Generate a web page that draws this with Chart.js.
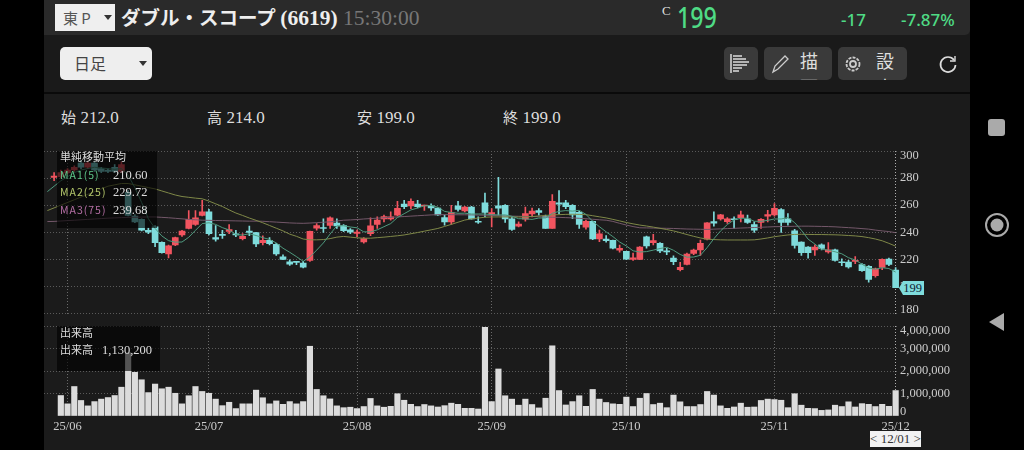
<!DOCTYPE html>
<html lang="ja">
<head>
<meta charset="utf-8">
<title>ダブル・スコープ (6619)</title>
<script src="https://cdn.jsdelivr.net/npm/chart.js@4"></script>
<style>
html, body { margin: 0; padding: 0; background: #000; }
body { width: 1024px; height: 450px; overflow: hidden; position: relative; font-family: "Liberation Serif", "Noto Sans CJK JP", serif; color: #ddd; }
.abs { position: absolute; white-space: nowrap; }
#panel { left: 44px; top: 0; width: 926px; height: 450px; background: #1b1b1b; }
#head { left: 44px; top: 0; width: 926px; height: 35px; background: #2a2a2a; border-radius: 0 0 5px 0; }
#tool { left: 44px; top: 35px; width: 926px; height: 57px; background: #1a1a1a; border-bottom: 2px solid #0a0a0a; }
#mkt { left: 55px; top: 4px; width: 60px; height: 27px; background: #efefef; color: #555; font: 15px/27px "Noto Sans CJK JP"; text-indent: 8px; }
#mkt i, #span i { position: absolute; width: 0; height: 0; border: 4px solid transparent; border-top: 5px solid #333; }
#mkt i { right: 3px; top: 11px; }
#name { left: 121px; top: 4px; font: bold 19.5px/26px "Noto Sans CJK JP"; color: #eee; }
#name b { font: bold 21.5px/26px "Liberation Serif"; margin-left: 0; }
#name span { font: 21.5px/26px "Liberation Serif"; color: #777; margin-left: 1px; }
.green { color: #4fdb85; font-family: "Noto Sans"; font-weight: 500; }
#span { left: 60px; top: 47px; width: 92px; height: 33px; background: #eee; border-radius: 5px; color: #444; font: 16px/33px "Noto Sans CJK JP"; text-indent: 14px; }
#span i { right: 5px; top: 14px; }
.btn { background: #3a3a3a; border-radius: 5px; top: 47px; height: 33px; overflow: hidden; }
.btn svg { position: absolute; left: 6px; top: 6px; }
.btn div { position: absolute; top: 0; left: 36px; width: 18px; white-space: normal; font: 18px/26px "Noto Sans CJK JP"; color: #ddd; }
.ohlc { top: 107px; font: 15px/20px "Noto Sans CJK JP"; }
.ohlc span { font: 17px/20px "Liberation Serif"; margin-left: 1px; }
canvas { position: absolute; }
.lgd { background: rgba(0,0,0,.62); font: 11px/17px "Noto Sans CJK JP"; color: #ddd; }
.lgd div { position: absolute; left: 3px; white-space: nowrap; }
.lgd .ma { letter-spacing: 1px; font-size: 10.5px; }
.lgd span { font-family: "Liberation Serif"; font-size: 12.5px; }
#tag { left: 899px; top: 281px; width: 25px; height: 14px; background: #7fdcdc; color: #123; font: 12.5px/14px "Liberation Serif"; text-align: right; padding-right: 2px; box-sizing: border-box; clip-path: polygon(0 50%, 4px 0, 100% 0, 100% 100%, 4px 100%); }
#date { left: 870px; top: 431px; width: 51px; height: 16px; background: #f2f2f2; color: #333; font: 13px/16px "Liberation Serif"; text-align: center; }
#dateTip { left: 893px; top: 427px; width: 0; height: 0; border: 3px solid transparent; border-bottom: 4px solid #f2f2f2; }
</style>
</head>
<body>
<div class="abs" id="panel"></div>
<div class="abs" id="head"></div>
<div class="abs" id="tool"></div>

<div class="abs" id="mkt">東 P<i></i></div>
<div class="abs" id="name">ダブル・スコープ <b>(6619)</b> <span>15:30:00</span></div>
<div class="abs" style="left:662px;top:3px;font-size:13px;color:#ddd">C</div>
<div class="abs green" style="left:677px;top:-2px;font-size:28px;line-height:38px;transform:scaleX(.83);transform-origin:left">199</div>
<div class="abs green" style="left:841px;top:9px;font-size:17px;line-height:22px;">-17</div>
<div class="abs green" style="left:901px;top:9px;font-size:17px;line-height:22px;">-7.87%</div>

<div class="abs" id="span">日足<i></i></div>
<div class="abs btn" style="left:724px;width:34px">
  <svg width="22" height="22" stroke="#ddd" stroke-width="1.5"><path d="M1 1V20M3 3H12M3 6H16M3 9H19M3 12H17M3 15H12M3 18H9"/></svg>
</div>
<div class="abs btn" style="left:764px;width:68px">
  <svg width="22" height="22" fill="none" stroke="#ccc" stroke-width="1.3"><path d="M3 19L5 13L15 3L18 6L8 16Z"/></svg>
  <div>描画</div>
</div>
<div class="abs btn" style="left:838px;width:69px">
  <svg width="22" height="22" fill="none" stroke="#ccc" stroke-width="1.8"><circle cx="9" cy="11" r="3"/><circle cx="9" cy="11" r="6.5" stroke-dasharray="3 1.2"/></svg>
  <div style="left:38px">設定</div>
</div>
<svg class="abs" style="left:937px;top:53px" width="22" height="22" fill="none" stroke="#ddd" stroke-width="1.7"><path d="M17 7A7.5 7.5 0 1 0 18.5 12"/><path d="M18 3V8H13" stroke-width="1.4"/></svg>

<div class="abs ohlc" style="left:61px">始 <span>212.0</span></div>
<div class="abs ohlc" style="left:207px">高 <span>214.0</span></div>
<div class="abs ohlc" style="left:357px">安 <span>199.0</span></div>
<div class="abs ohlc" style="left:503px">終 <span>199.0</span></div>

<canvas id="priceChart" width="916" height="175" style="left:44px;top:145px"></canvas>
<canvas id="volumeChart" width="916" height="130" style="left:44px;top:320px"></canvas>

<div class="abs lgd" style="left:57px;top:151px;width:100px;height:77px">
  <div style="top:-3px">単純移動平均</div>
  <div class="ma" style="top:14.5px;color:#5fc88a">MA1(5)</div><div style="top:14.5px;left:56px"><span>210.60</span></div>
  <div class="ma" style="top:32px;color:#b3c66b">MA2(25)</div><div style="top:32px;left:56px"><span>229.72</span></div>
  <div class="ma" style="top:49.5px;color:#b56fa5">MA3(75)</div><div style="top:49.5px;left:56px"><span>239.68</span></div>
</div>
<div class="abs lgd" style="left:57px;top:326px;width:103px;height:45px">
  <div style="top:-2px">出来高</div>
  <div style="top:15px">出来高</div><div style="top:15px;left:45px"><span>1,130,200</span></div>
</div>
<div class="abs" id="tag">199</div>
<div class="abs" id="dateTip"></div>
<div class="abs" id="date">&lt; 12/01 &gt;</div>

<!-- android nav bar -->
<div class="abs" style="left:988px;top:119px;width:17px;height:17px;background:#aaa;border-radius:3px"></div>
<svg class="abs" style="left:984px;top:212px" width="26" height="26"><circle cx="13" cy="13" r="11" fill="none" stroke="#aaa" stroke-width="2"/><circle cx="13" cy="13" r="6.5" fill="#aaa"/></svg>
<svg class="abs" style="left:988px;top:312px" width="18" height="20"><path d="M1 10L16 1V19Z" fill="#aaa"/></svg>

<script>
// first two slots are left of the first volume bar, the picture clips them
var monthLabels = ['', '', '', '25/06', '', '', '', '', '', '', '', '', '', '', '', '', '', '', '', '', '', '', '', '', '25/07', '', '', '', '', '', '', '', '', '', '', '', '', '', '', '', '', '', '', '', '', '', '25/08', '', '', '', '', '', '', '', '', '', '', '', '', '', '', '', '', '', '', '', '25/09', '', '', '', '', '', '', '', '', '', '', '', '', '', '', '', '', '', '', '', '25/10', '', '', '', '', '', '', '', '', '', '', '', '', '', '', '', '', '', '', '', '', '', '25/11', '', '', '', '', '', '', '', '', '', '', '', '', '', '', '', '', '', '25/12'];

var opens = [null, 280.5, 281, 284, 286, 291, 288, 291, 287, 286, 288, 285,
  269.5, 252, 249.6, 241.5, 244, 232.5, 224, 230.6, 238, 242.8, 245.7, 252.5, 255, 236, 238.4, 240.6, 238.9, 235.2, 240.8, 239.8, 232.3, 234, 231, 221.8, 218.2, 218.2, 217.2, 219.2, 243, 243.3, 245, 246.7,
  245, 241.8, 239.2, 232.8, 239, 245.7, 249.9, 249.9, 252.6, 260.8, 259.4, 260.8, 259.4, 259.6, 257.9, 250.8, 247.7, 259.6, 255.7, 258.6, 247.9, 261.8, 253.3, 259.6, 259.9, 249.9, 244.5, 249.6, 253.5, 256, 251.8, 242.8, 261.8, 261.8, 259.9, 254.7, 243.8, 248, 235, 235, 234, 226.8, 226,
  220, 220, 236.7, 232.3, 231.9, 226, 220.9, 212.4, 216.3, 224.3, 227, 234.8, 247.9, 249.9, 247.9, 249.9, 250.8, 249.9, 245.7, 247.2, 251.8, 252.8, 256.7, 249.9, 241.1, 232.8, 229, 227, 230.7, 225.5, 227, 218, 218, 218.5, 216.1, 214.8, 208, 214.1, 220.2, 212];
var highs = [null, 284, 286, 287, 289, 293, 292, 292, 288, 287, 290, 292,
  271, 253, 250, 243, 245, 233, 230.5, 236.5, 241.5, 256, 256, 263.5, 257, 245, 241.5, 245.7, 241.5, 239, 244.5, 240, 237.4, 236, 231.8, 223.3, 219.7, 218.5, 218.5, 240.9, 246.4, 250, 251.3, 250,
  245.7, 242.8, 241.6, 236, 250.6, 251.3, 252.6, 255, 262.8, 263.5, 264.7, 263.5, 260, 261, 258, 252.6, 259.9, 262.8, 259.1, 259.1, 251.3, 268.9, 257.4, 280.5, 260.4, 251.3, 247.7, 258.6, 257.9, 257.4, 252.6, 267.9, 270.8, 263.5, 260.4, 255.5, 249, 248.2, 241.6, 237.5, 234.3, 230.6, 226,
  224.6, 229.4, 237.2, 238.4, 232.4, 228.2, 222.6, 217.8, 224.6, 227.5, 234.3, 247.2, 255, 253.3, 250.8, 251.3, 255.7, 252.6, 247.7, 250.1, 256.2, 261.1, 257.4, 253.8, 242.1, 233, 229.4, 230.7, 231.4, 232.4, 227.5, 220.4, 219.2, 222.1, 216.8, 215.3, 213.6, 220.4, 220.9, 214];
var lows = [null, 278, 280, 283, 285, 287, 287, 285, 284, 284, 284, 284,
  252, 247, 241, 239, 229.4, 224.5, 221, 230, 237, 242.5, 245, 252, 238, 233.5, 235.5, 239, 236.7, 234.3, 237.4, 229.4, 230.6, 230.6, 222.8, 219.7, 215.5, 216, 213.6, 218.4, 241.6, 239.8, 242.8, 242.8,
  240.4, 239, 236.7, 231.9, 237.5, 242.8, 247.7, 248.9, 252, 257.4, 257.4, 257.9, 256.2, 256.2, 252.5, 245.3, 245.7, 255.5, 255, 249.6, 246.5, 251.3, 244, 252.6, 247.2, 241.4, 244, 248.2, 251.3, 252.6, 242.8, 242.8, 253.8, 257.4, 250, 242.8, 242.3, 234.5, 233, 232.6, 227.7, 225.3, 219.7,
  219.2, 219.7, 228.2, 230.7, 225, 223.4, 216.1, 211.4, 215.8, 223.4, 222.9, 234.3, 244.5, 248.9, 246.5, 242.8, 247.7, 246.5, 239.9, 242.8, 247.7, 251.8, 239.9, 245.3, 228.2, 222.9, 220.9, 222.9, 227, 224.6, 218.7, 215.3, 213.4, 216.8, 211, 203.2, 206.8, 212.4, 215.3, 199];
var closes = [null, 281.5, 284, 286, 288, 288, 291, 286, 285, 285, 285, 290,
  252.5, 247.6, 241.6, 240, 232.3, 225, 230, 236, 240.8, 249.6, 250.6, 255, 239, 234.8, 237.7, 242, 238, 237, 239.8, 231.3, 234, 231.6, 224, 220, 216.5, 217.7, 214.3, 240.6, 245, 242.8, 250.6, 244.7,
  241.1, 240.1, 240.1, 235.3, 244.8, 248.9, 251.6, 251.3, 257.7, 258.9, 262.8, 258.9, 259.9, 257.9, 252.8, 247.7, 254.5, 256.9, 258.6, 249.9, 247.4, 254.7, 254.5, 257.7, 249.9, 242.1, 246, 253.8, 255.7, 254.7, 242.8, 262.8, 260.8, 258.9, 252.8, 245.7, 248, 235, 238.9, 233.8, 228.2, 228.2, 220.2,
  221.2, 229, 229.9, 233.8, 226.3, 225.5, 218.2, 214.1, 223.8, 226.8, 231.9, 247, 246.7, 252.8, 249.9, 249.2, 252.8, 247.2, 241.6, 249.6, 253, 257.7, 247.2, 247.2, 230.2, 225, 225, 229, 228, 227, 219.2, 217.5, 214.4, 219.2, 211.7, 205.1, 212.9, 220, 216.3, 199];

var ma1 = [270, 274, 278, 281, 284, 286, 287, 288, 287.5, 287, 286.5, 287,
  282, 273, 262, 250, 242.8, 237.3, 233.8, 232.7, 232.8, 236.3, 241.4, 246.4, 247, 245.8, 243.4, 241.7, 238.3, 237.9, 238.9, 237.6, 236, 234.7, 232.1, 228.2, 225.2, 222, 218.5, 221.8, 226.8, 232.1, 238.7, 244.7,
  244.8, 243.9, 243.3, 240.3, 240.3, 241.8, 244.1, 246.4, 250.9, 253.7, 256.5, 257.9, 259.6, 259.7, 258.5, 255.4, 254.6, 254, 254.1, 253.5, 253.5, 253.5, 253, 252.8, 252.8, 251.8, 250, 249.9, 249.5, 250.5, 250.6, 254, 255.4, 256, 255.6, 256.2, 253.2, 248.1, 244.1, 240.3, 236.8, 232.8, 229.9,
  226.3, 225.4, 225.7, 226.8, 228, 228.9, 226.7, 223.6, 221.6, 221.7, 223, 228.7, 235.2, 241, 245.7, 249.1, 250.3, 250.4, 248.1, 248.1, 248.8, 249.8, 249.8, 250.9, 247.1, 241.5, 234.9, 231.3, 227.4, 226.8, 225.6, 224.1, 221.2, 219.5, 216.4, 213.6, 212.7, 213.8, 213.2, 210.6];
var ma2 = [256, 258, 260, 262, 264, 266, 268, 270, 272, 274, 275, 276,
  276, 275, 274, 273, 272, 270.5, 269, 267.5, 266.4, 265.8, 265.2, 264.7, 263, 261, 259, 256.5, 254.2, 252.4, 250.5, 248.8, 247, 245, 243, 241, 238.6, 237, 235, 234.4, 234.4, 234.6, 235.3, 236.4,
  236.9, 236.4, 235.9, 235.6, 235.6, 236, 236.4, 236.9, 237.4, 238, 238.9, 239.8, 240.8, 241.8, 242.8, 244.3, 245.8, 247.4, 249, 249.9, 250.5, 251.1, 251.3, 251.3, 251.3, 251.3, 251.3, 251.3, 251.6, 252, 252.4, 252.8, 253, 253.2, 253.3, 253.2, 253, 252.2, 251.4, 250.6, 249.5, 248.4, 247.2,
  246.2, 245.3, 244.6, 243.8, 242.9, 242, 241, 239.7, 238.3, 237, 235.8, 234.9, 234.6, 234.4, 234.3, 234.3, 234.3, 234.3, 234.4, 235, 235.8, 236.7, 237.4, 238, 238.4, 238.5, 238.4, 238.3, 238.3, 238.2, 238.1, 237.9, 237.6, 237.3, 236.8, 236, 235, 233.7, 231.8, 229.72];
var ma3 = [247.9, 248, 248.3, 248.6, 248.9, 249.2, 249.5, 249.8, 250.1, 250.4, 250.6, 250.8,
  251, 251.1, 251.2, 251.3, 251.3, 251, 250.7, 250.3, 249.9, 249.5, 249.2, 248.9, 248.8, 248.7, 248.6, 248.5, 248.4, 248.3, 248.2, 248.2, 248.1, 247.8, 247.5, 247.2, 246.9, 246.7, 246.6, 246.8, 247.1, 247.4, 247.7, 248.3,
  248.9, 249.1, 249.4, 249.8, 250.1, 250.4, 250.7, 251, 251.3, 251.6, 251.9, 252.2, 252.5, 252.8, 253, 253, 253, 252.9, 252.9, 252.8, 252.7, 252.6, 252.4, 252.2, 252, 251.9, 251.8, 251.7, 251.6, 251.4, 251.3, 251.1, 251, 250.8, 250.6, 250.3, 250, 249.6, 249.2, 248.9, 248, 246.6, 245.3,
  244.2, 243.3, 243.2, 243.1, 243, 242.9, 242.8, 242.6, 242.4, 242.3, 242.2, 242.1, 242.3, 242.5, 242.7, 242.9, 243.1, 243.3, 243.5, 243.7, 243.9, 244.1, 244.2, 244.3, 244.4, 244.5, 244.5, 244.4, 244.3, 244.2, 244, 243.7, 243.4, 243.1, 242.7, 242.3, 241.6, 241, 240.5, 239.68];

var volumes = [null, null, 910000, 540000, 1310000, 690000, 450000, 640000, 750000, 820000, 910000, 1280000,
  2810000, 1940000, 1610000, 1040000, 1420000, 1210000, 1280000, 1010000, 540000, 900000, 1310000, 1090000, 1010000, 750000, 460000, 610000, 330000, 540000, 540000, 1150000, 810000, 540000, 670000, 520000, 640000, 540000, 640000, 3100000, 1180000, 900000, 760000, 450000,
  370000, 390000, 330000, 420000, 780000, 450000, 390000, 430000, 990000, 700000, 520000, 420000, 510000, 450000, 400000, 460000, 570000, 520000, 340000, 340000, 310000, 3940000, 640000, 2090000, 900000, 750000, 480000, 750000, 510000, 360000, 790000, 3120000, 1130000, 490000, 640000, 900000, 430000, 1180000, 750000, 600000, 540000, 520000, 840000,
  420000, 790000, 1000000, 510000, 570000, 370000, 930000, 630000, 420000, 420000, 510000, 1090000, 930000, 450000, 340000, 400000, 570000, 390000, 400000, 690000, 750000, 730000, 700000, 370000, 990000, 480000, 340000, 330000, 250000, 270000, 480000, 420000, 630000, 400000, 550000, 520000, 420000, 520000, 430000, 1130200];

var priceTicks = { min: 180, max: 300, step: 20 };
var volumeTicks = { min: 0, max: 4000000, step: 1000000 };

var UP = '#f2545f', DOWN = '#7fdcdc';
var LABEL_FONT = '12.5px "Liberation Serif"';

function candleColor(i) {
  return closes[i] >= opens[i] ? UP : DOWN;
}

// y labels are drawn by hand so the top and bottom ones stay inside the pane
var edgeLabels = {
  id: 'edgeLabels',
  afterDraw: function(chart) {
    var y = chart.scales.y, ctx = chart.ctx;
    ctx.save();
    ctx.font = LABEL_FONT;
    ctx.fillStyle = '#ccc';
    ctx.textBaseline = 'middle';
    y.ticks.forEach(function(t) {
      var py = y.getPixelForValue(t.value);
      py = Math.max(y.top + 5, Math.min(y.bottom - 4, py));
      ctx.fillText(t.label, chart.chartArea.right + 1, py);
    });
    ctx.restore();
  }
};

function xAxis(showLabels) {
  return {
    offset: true,
    grid: {
      offset: false,
      drawTicks: false,
      lineWidth: 1,
      color: function(c) {
        if (c.index === monthLabels.length - 1) return '#b0b0b0';
        return monthLabels[c.index] ? '#6a6a6a' : 'transparent';
      }
    },
    border: { display: false, dash: [1, 2] },
    ticks: {
      display: showLabels,
      autoSkip: false,
      maxRotation: 0,
      padding: 3,
      color: '#ccc',
      font: { family: 'Liberation Serif', size: 12.5 },
      callback: function(v, i) { return monthLabels[i]; }
    }
  };
}

function yAxis(range, fmt, hideZero) {
  return {
    position: 'right',
    min: range.min,
    max: range.max,
    afterFit: function(s) { s.width = 61; },
    grid: {
      drawTicks: false,
      color: function(c) { return hideZero && c.tick.value === 0 ? 'transparent' : '#5a5a5a'; }
    },
    border: { display: false, dash: [1, 2] },
    ticks: { display: false, stepSize: range.step, callback: fmt }
  };
}

var price = new Chart(document.getElementById('priceChart'), {
  type: 'bar',
  data: {
    labels: monthLabels,
    datasets: [
      { label: 'MA1(5)', type: 'line', data: ma1, borderColor: '#4f9a7f', borderWidth: 1, pointRadius: 0, order: 0 },
      { label: 'MA2(25)', type: 'line', data: ma2, borderColor: '#7f8848', borderWidth: 1, pointRadius: 0, order: 0 },
      { label: 'MA3(75)', type: 'line', data: ma3, borderColor: '#74586a', borderWidth: 1, pointRadius: 0, order: 0 },
      {
        label: 'body',
        data: opens.map(function(o, i) { return o === null ? null : [o, closes[i]]; }),
        backgroundColor: opens.map(function(o, i) { return candleColor(i); }),
        barThickness: 6, minBarLength: 1, grouped: false, order: 1
      },
      {
        label: 'wick',
        data: lows.map(function(l, i) { return l === null ? null : [l, highs[i]]; }),
        backgroundColor: opens.map(function(o, i) { return candleColor(i); }),
        barThickness: 1, grouped: false, order: 2
      }
    ]
  },
  options: {
    responsive: false,
    animation: false,
    layout: { padding: { top: 6, bottom: 6.5 } },
    plugins: { legend: { display: false }, tooltip: { enabled: false } },
    scales: {
      x: xAxis(false),
      y: yAxis(priceTicks, function(v) { return String(v); }, false)
    }
  },
  plugins: [edgeLabels]
});

var volumeX = xAxis(true);
volumeX.afterFit = function(s) { s.height = 34; };

var volume = new Chart(document.getElementById('volumeChart'), {
  type: 'bar',
  data: {
    labels: monthLabels,
    datasets: [{ label: '出来高', data: volumes, backgroundColor: '#dcdcdc', barThickness: 5.5 }]
  },
  options: {
    responsive: false,
    animation: false,
    layout: { padding: { top: 6 } },
    plugins: { legend: { display: false }, tooltip: { enabled: false } },
    scales: {
      x: volumeX,
      y: yAxis(volumeTicks, function(v) { return v.toLocaleString('en-US'); }, true)
    }
  },
  plugins: [edgeLabels]
});
</script>
</body>
</html>
